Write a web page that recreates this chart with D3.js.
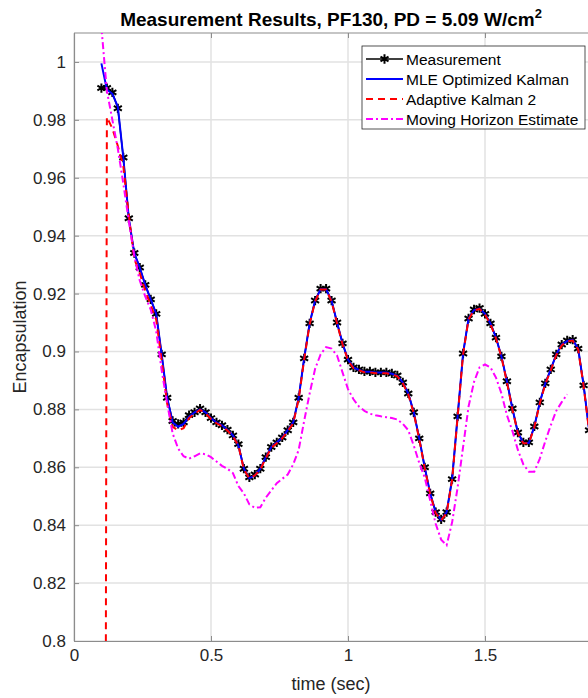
<!DOCTYPE html>
<html>
<head>
<meta charset="utf-8">
<script src="https://cdn.jsdelivr.net/npm/d3@7"></script>
<style>
  body { margin: 0; background: #fff; }
  text { font-family: "Liberation Sans", Arial, Helvetica, sans-serif; }
</style>
</head>
<body>
<svg id="chart" width="588" height="698"></svg>
<script>
// sampling grid of the measurement (sec)
var tStart = 0.1, tStep = 0.02;

var measurement = [0.991, 0.991, 0.9895, 0.984, 0.967, 0.946, 0.934, 0.929, 0.923, 0.918,
  0.913, 0.899, 0.884, 0.876, 0.875, 0.8755, 0.878, 0.879, 0.8803, 0.879,
  0.877, 0.8755, 0.8745, 0.873, 0.871, 0.868, 0.8595, 0.8565, 0.8575, 0.8595,
  0.8635, 0.867, 0.8686, 0.8703, 0.8728, 0.8755, 0.884, 0.8976, 0.9097, 0.9176,
  0.9217, 0.9217, 0.9176, 0.910, 0.9028, 0.8972, 0.8945, 0.8938, 0.8931, 0.8931,
  0.8928, 0.8928, 0.8928, 0.8924, 0.8917, 0.8893, 0.8855, 0.879, 0.870, 0.860,
  0.851, 0.8445, 0.842, 0.8445, 0.8559, 0.8776, 0.8993, 0.9114, 0.9145, 0.915,
  0.913, 0.9097, 0.9048, 0.8983, 0.8897, 0.8803, 0.872, 0.8686, 0.8686, 0.8741,
  0.8824, 0.889, 0.8938, 0.899, 0.9024, 0.9038, 0.9041, 0.901, 0.8883, 0.8728];

var mleKalman = [0.9995, 0.9905, 0.989, 0.9845, 0.967, 0.946, 0.934, 0.929, 0.923, 0.918,
  0.913, 0.899, 0.884, 0.8755, 0.874, 0.875, 0.8775, 0.879, 0.880, 0.879,
  0.877, 0.8755, 0.8745, 0.873, 0.871, 0.8675, 0.8595, 0.8562, 0.8572, 0.8595,
  0.8635, 0.867, 0.8686, 0.8703, 0.8728, 0.8755, 0.884, 0.8976, 0.9097, 0.9176,
  0.9215, 0.9215, 0.9176, 0.910, 0.9028, 0.8972, 0.8945, 0.8936, 0.893, 0.893,
  0.8927, 0.8927, 0.8927, 0.8923, 0.8916, 0.8893, 0.8855, 0.879, 0.870, 0.860,
  0.851, 0.8445, 0.8418, 0.8445, 0.8559, 0.8776, 0.8993, 0.9114, 0.9143, 0.9148,
  0.913, 0.9097, 0.9048, 0.8983, 0.8897, 0.8803, 0.872, 0.8684, 0.8684, 0.8741,
  0.8824, 0.889, 0.8938, 0.899, 0.9024, 0.9036, 0.904, 0.901, 0.8883, 0.8728];

var adaptiveKalman = [0.0, 0.981, 0.977, 0.971, 0.964, 0.947, 0.932, 0.927, 0.921, 0.916,
  0.911, 0.897, 0.882, 0.874, 0.8728, 0.8735, 0.877, 0.8785, 0.8798, 0.8787,
  0.8767, 0.8752, 0.8742, 0.8727, 0.8707, 0.8675, 0.8592, 0.8562, 0.8572, 0.8592,
  0.8632, 0.8667, 0.8683, 0.87, 0.8725, 0.8752, 0.8835, 0.8972, 0.9094, 0.9173,
  0.9214, 0.9214, 0.9173, 0.9097, 0.9025, 0.8969, 0.8942, 0.8935, 0.8928, 0.8928,
  0.8925, 0.8925, 0.8925, 0.8921, 0.8914, 0.889, 0.8852, 0.8787, 0.8697, 0.8597,
  0.8507, 0.8442, 0.8417, 0.8442, 0.8556, 0.8773, 0.899, 0.9111, 0.9142, 0.9147,
  0.9127, 0.9094, 0.9045, 0.898, 0.8894, 0.88, 0.8717, 0.8683, 0.8683, 0.8738,
  0.8821, 0.8887, 0.8935, 0.8987, 0.9021, 0.9035, 0.9038, 0.9007, 0.888, 0.8725];

var movingHorizon = [1.012, 0.990, 0.980, 0.970, 0.958, 0.945, 0.933, 0.9245, 0.919, 0.9145,
  0.907, 0.8935, 0.882, 0.8717, 0.8665, 0.8638, 0.863, 0.8638, 0.8648, 0.8645,
  0.8635, 0.862, 0.8605, 0.8595, 0.858, 0.8535, 0.851, 0.8472, 0.846, 0.8462,
  0.8495, 0.852, 0.8545, 0.856, 0.8575, 0.861, 0.866, 0.876, 0.8855, 0.894,
  0.899, 0.9015, 0.901, 0.8986, 0.8928, 0.887, 0.8835, 0.881, 0.8795, 0.8785,
  0.878, 0.8776, 0.8773, 0.877, 0.8765, 0.875, 0.8728, 0.8675, 0.8615, 0.8565,
  0.8485, 0.8405, 0.835, 0.8331, 0.841, 0.853, 0.867, 0.881, 0.8895, 0.8945,
  0.8955, 0.8945, 0.891, 0.8855, 0.878, 0.8725, 0.866, 0.861, 0.8585, 0.8585,
  0.863, 0.869, 0.8745, 0.8795, 0.8825, 0.8852];

var xTicks = [0, 0.5, 1, 1.5];
var yTicks = [0.8, 0.82, 0.84, 0.86, 0.88, 0.9, 0.92, 0.94, 0.96, 0.98, 1];

var seriesNames = ["Measurement", "MLE Optimized Kalman", "Adaptive Kalman 2", "Moving Horizon Estimate"];
var seriesColors = ["#000000", "#0000ff", "#ff0000", "#ff00ff"];
var seriesDash = [null, null, "7,5", "7,3,2,3"];

var svg = d3.select("#chart");
var plotLeft = 74, plotTop = 33, plotBottom = 641, plotRight = 622;

var x = d3.scaleLinear().domain([0, 2]).range([plotLeft, plotRight]);
var y = d3.scaleLinear().domain([0.8, 1.01]).range([plotBottom, plotTop]);

function toPoints(arr) {
  return arr.map(function(v, i) { return { t: tStart + tStep * i, v: v }; });
}

svg.append("defs").append("clipPath").attr("id", "plotclip")
  .append("rect").attr("x", plotLeft).attr("y", plotTop)
  .attr("width", plotRight - plotLeft).attr("height", plotBottom - plotTop);

// grid
var grid = svg.append("g");
grid.selectAll(".gx").data(xTicks).enter().append("line")
  .attr("x1", function(d){ return x(d); }).attr("x2", function(d){ return x(d); })
  .attr("y1", plotTop).attr("y2", plotBottom)
  .attr("stroke", "#e2e2e2").attr("stroke-width", 1.5);
grid.selectAll(".gy").data(yTicks).enter().append("line")
  .attr("x1", plotLeft).attr("x2", plotRight)
  .attr("y1", function(d){ return y(d); }).attr("y2", function(d){ return y(d); })
  .attr("stroke", "#e2e2e2").attr("stroke-width", 1.5);

// axes (MATLAB style, ticks inside)
var fmt = function(d) { return String(+d.toFixed(2)); };
var yAxis = svg.append("g").attr("transform", "translate(" + plotLeft + ",0)")
  .call(d3.axisLeft(y).tickValues(yTicks).tickFormat(fmt).tickSizeInner(-5).tickSizeOuter(0).tickPadding(8));
var xAxis = svg.append("g").attr("transform", "translate(0," + plotBottom + ")")
  .call(d3.axisBottom(x).tickValues(xTicks).tickFormat(fmt).tickSizeInner(-5).tickSizeOuter(0).tickPadding(8));
var xTop = svg.append("g").attr("transform", "translate(0," + plotTop + ")")
  .call(d3.axisTop(x).tickValues(xTicks).tickFormat("").tickSizeInner(-5).tickSizeOuter(0));
[yAxis, xAxis, xTop].forEach(function(a) {
  a.select(".domain").attr("stroke", "#8c8c8c").attr("stroke-width", 1.2);
  a.selectAll(".tick line").attr("stroke", "#8c8c8c");
  a.selectAll(".tick text").attr("fill", "#262626").style("font-size", "17px")
    .style("font-family", "'Liberation Sans', Arial, sans-serif");
});
xTop.select(".domain").attr("d", "M" + plotLeft + ",0H" + plotRight);

// series
var plot = svg.append("g").attr("clip-path", "url(#plotclip)");
var line = d3.line().x(function(d){ return x(d.t); }).y(function(d){ return y(d.v); });

var allSeries = [measurement, mleKalman, adaptiveKalman, movingHorizon];
allSeries.forEach(function(arr, k) {
  var pts = toPoints(arr);
  plot.append("path").datum(pts)
    .attr("d", line)
    .attr("fill", "none")
    .attr("stroke", seriesColors[k])
    .attr("stroke-width", k == 0 ? 1.5 : 2)
    .attr("stroke-dasharray", seriesDash[k]);
  if (k == 0) {
    plot.selectAll(".mk").data(pts).enter().append("path")
      .attr("transform", function(d){ return "translate(" + x(d.t) + "," + y(d.v) + ")"; })
      .attr("d", d3.symbol(d3.symbolAsterisk, 60))
      .attr("fill", "none").attr("stroke", "#000").attr("stroke-width", 2);
  }
});

// title
var title = svg.append("text").attr("x", 331).attr("y", 26)
  .attr("text-anchor", "middle").attr("fill", "#000")
  .style("font-size", "19px").style("font-weight", "bold");
title.append("tspan").text("Measurement Results, PF130, PD = 5.09 W/cm");
title.append("tspan").attr("dy", -8).style("font-size", "13px").text("2");

// axis labels
svg.append("text").attr("x", 331).attr("y", 690).attr("text-anchor", "middle")
  .attr("fill", "#262626").style("font-size", "18px").text("time (sec)");
svg.append("text").attr("transform", "translate(26,337) rotate(-90)")
  .attr("text-anchor", "middle").attr("fill", "#262626").style("font-size", "18px")
  .text("Encapsulation");

// legend
var lg = svg.append("g");
lg.append("rect").attr("x", 362).attr("y", 46).attr("width", 223).attr("height", 83)
  .attr("fill", "#fff").attr("stroke", "#262626").attr("stroke-width", 0.8);
seriesNames.forEach(function(name, k) {
  var ly = 59 + k * 20;
  lg.append("line").attr("x1", 366).attr("x2", 403).attr("y1", ly).attr("y2", ly)
    .attr("stroke", seriesColors[k]).attr("stroke-width", k == 0 ? 1.5 : 2)
    .attr("stroke-dasharray", seriesDash[k]);
  if (k == 0) {
    lg.append("path").attr("transform", "translate(384.5," + ly + ")")
      .attr("d", d3.symbol(d3.symbolAsterisk, 60))
      .attr("fill", "none").attr("stroke", "#000").attr("stroke-width", 2);
  }
  lg.append("text").attr("x", 406).attr("y", ly + 5.5).attr("fill", "#000")
    .style("font-size", "15.5px").text(name);
});
</script>
</body>
</html>
